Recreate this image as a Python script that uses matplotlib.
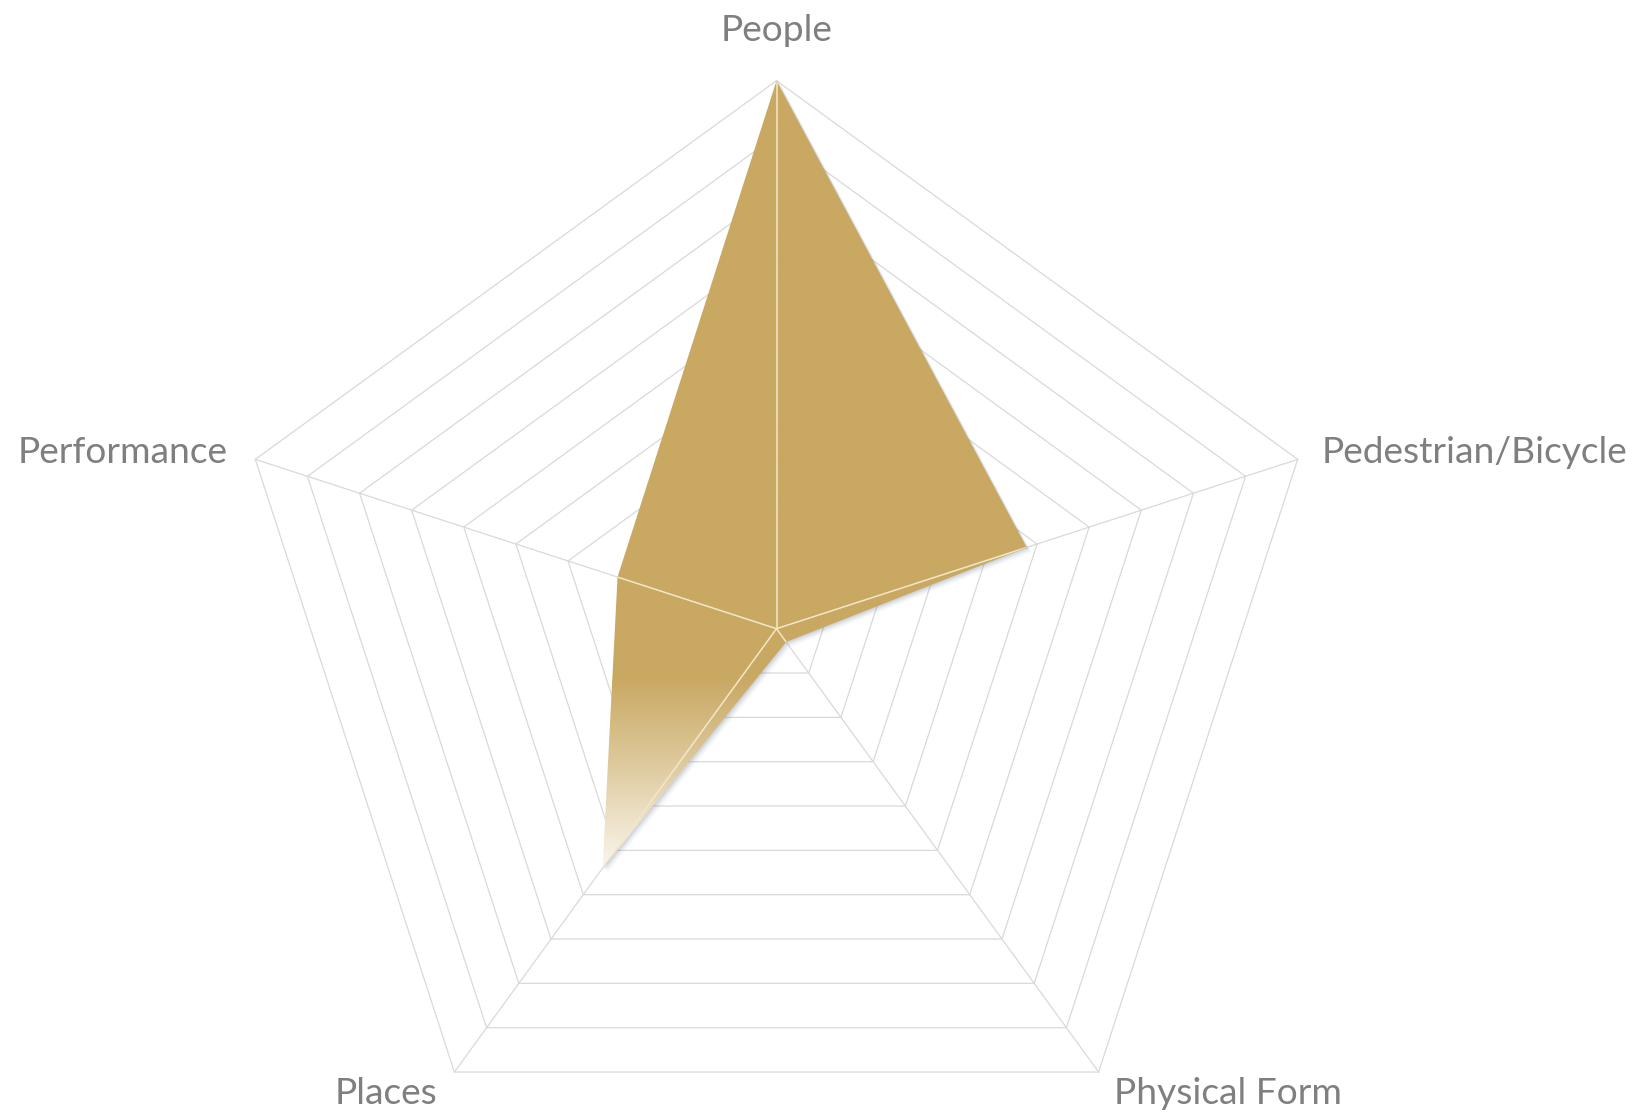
import numpy as np
import matplotlib
matplotlib.use("Agg")
import matplotlib.pyplot as plt
from matplotlib.patches import Polygon
from matplotlib.colors import LinearSegmentedColormap
import matplotlib.transforms as mtransforms

categories = ["People", "Pedestrian/Bicycle", "Physical Form", "Places", "Performance"]
values = [10, 4.8, 0.3, 5.4, 3.05]
max_value = 10
n_rings = 10

plt.rcParams['font.family'] = ['Lato', 'DejaVu Sans']

W, H = 1643, 1115
fig = plt.figure(figsize=(W / 100, H / 100), dpi=100)
ax = fig.add_axes([0, 0, 1, 1])
cx, cy, R = 776.5, 628.7, 548.0
ppu = R / max_value
ax.set_xlim(-cx / ppu, (W - cx) / ppu)
ax.set_ylim(-(H - cy) / ppu, cy / ppu)
ax.set_aspect('equal')
ax.axis('off')

n = len(categories)
theta = np.arange(n) * 2 * np.pi / n
ux, uy = np.sin(theta), np.cos(theta)

grid_col = '#D9D9D9'
# rings
for k in range(1, n_rings + 1):
    r = max_value * k / n_rings
    xs = np.append(r * ux, r * ux[0])
    ys = np.append(r * uy, r * uy[0])
    ax.plot(xs, ys, color=grid_col, lw=0.9, zorder=1)
# spokes
for i in range(n):
    ax.plot([0, max_value * ux[i]], [0, max_value * uy[i]], color=grid_col, lw=0.9, zorder=1)

v = np.array(values)
px, py = v * ux, v * uy
verts = np.column_stack([px, py])

# shadow
for k, a in [(1.0, 0.12), (2.0, 0.10), (3.0, 0.08), (4.0, 0.05), (5.0, 0.03)]:
    tr = mtransforms.offset_copy(ax.transData, fig=fig, x=k * 0.72, y=-k * 0.72, units='points')
    sh = Polygon(verts, closed=True, facecolor='#76869A', edgecolor='none', alpha=a,
                 transform=tr, zorder=2)
    ax.add_patch(sh)

# gradient fill
poly = Polygon(verts, closed=True, facecolor='none', edgecolor='none', zorder=3)
ax.add_patch(poly)
gold = '#C9A862'
cmap = LinearSegmentedColormap.from_list('g', [(0, gold), (0.76, gold), (0.88, '#E0CDA4'), (1.0, '#FAF6EC')])
ymin, ymax = py.min(), py.max()
grad = np.linspace(0, 1, 512).reshape(-1, 1)
im = ax.imshow(grad, cmap=cmap, aspect='auto', origin='upper',
               extent=[px.min(), px.max(), ymin, ymax], zorder=3, interpolation='bilinear')
im.set_clip_path(poly)
ax.set_xlim(-cx / ppu, (W - cx) / ppu)
ax.set_ylim(-(H - cy) / ppu, cy / ppu)

# spokes visible over fill
for i in range(n):
    ln, = ax.plot([0, max_value * ux[i]], [0, max_value * uy[i]], color='#F3E7C9', lw=1.1, zorder=4)
    ln.set_clip_path(poly)

# labels
lab_col = '#7F7F7F'
fs = 26.7
ax.text(0, 10.72, categories[0], ha='center', va='baseline', fontsize=fs, color=lab_col)
ax.text(9.95, 3.02, categories[1], ha='left', va='baseline', fontsize=fs, color=lab_col)
ax.text(6.16, -8.675, categories[2], ha='left', va='baseline', fontsize=fs, color=lab_col)
ax.text(-6.18, -8.675, categories[3], ha='right', va='baseline', fontsize=fs, color=lab_col)
ax.text(-10.01, 3.02, categories[4], ha='right', va='baseline', fontsize=fs, color=lab_col)

fig.savefig('out.png', dpi=100, facecolor='white')
